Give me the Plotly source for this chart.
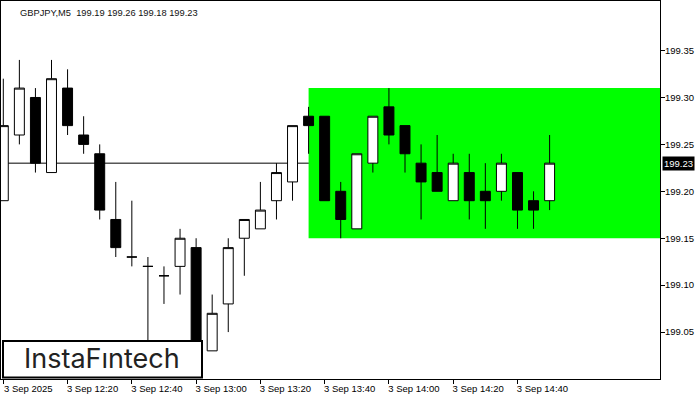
import plotly.graph_objects as go

# ---- data ----
times = ["12:00", "12:05", "12:10", "12:15", "12:20", "12:25", "12:30", "12:35", "12:40", "12:45",
         "12:50", "12:55", "13:00", "13:05", "13:10", "13:15", "13:20", "13:25", "13:30", "13:35",
         "13:40", "13:45", "13:50", "13:55", "14:00", "14:05", "14:10", "14:15", "14:20", "14:25",
         "14:30", "14:35", "14:40", "14:45", "14:50"]
opens = [199.19, 199.26, 199.30, 199.22, 199.31, 199.26, 199.24, 199.17, 199.13, 199.12,
         199.11, 199.12, 199.14, 199.03, 199.08, 199.15, 199.16, 199.19, 199.21, 199.28,
         199.28, 199.20, 199.16, 199.23, 199.29, 199.27, 199.23, 199.22, 199.19, 199.22,
         199.20, 199.20, 199.22, 199.19, 199.19]
highs = [199.32, 199.34, 199.31, 199.34, 199.33, 199.28, 199.25, 199.21, 199.19, 199.13,
         199.12, 199.16, 199.15, 199.09, 199.15, 199.17, 199.21, 199.23, 199.27, 199.29,
         199.28, 199.21, 199.24, 199.28, 199.31, 199.27, 199.25, 199.26, 199.24, 199.24,
         199.23, 199.24, 199.22, 199.20, 199.26]
lows = [199.19, 199.25, 199.22, 199.22, 199.26, 199.24, 199.17, 199.13, 199.12, 199.03,
        199.08, 199.09, 199.01, 199.03, 199.05, 199.11, 199.16, 199.17, 199.19, 199.24,
        199.19, 199.15, 199.16, 199.22, 199.25, 199.22, 199.17, 199.20, 199.19, 199.17,
        199.16, 199.19, 199.16, 199.16, 199.18]
closes = [199.27, 199.31, 199.23, 199.32, 199.27, 199.25, 199.18, 199.14, 199.13, 199.12,
          199.11, 199.15, 199.02, 199.07, 199.14, 199.17, 199.18, 199.22, 199.27, 199.27,
          199.19, 199.17, 199.24, 199.28, 199.26, 199.24, 199.21, 199.20, 199.23, 199.19,
          199.19, 199.23, 199.18, 199.18, 199.23]

tick_times = ["12:00", "12:20", "12:40", "13:00", "13:20", "13:40", "14:00", "14:20", "14:40"]
tick_labels = ["3 Sep 2025", "3 Sep 12:20", "3 Sep 12:40", "3 Sep 13:00", "3 Sep 13:20",
               "3 Sep 13:40", "3 Sep 14:00", "3 Sep 14:20", "3 Sep 14:40"]
price_ticks = [199.05, 199.10, 199.15, 199.20, 199.25, 199.30, 199.35]

zone_start = "13:35"
zone_top = 199.31
zone_bottom = 199.15
current_price = 199.23
symbol = "GBPJPY,M5"

# ---- layout geometry ----
W, H = 700, 400
ML, MR, MT, MB = 1, 40, 1, 21
PW, PH = W - ML - MR, H - MT - MB
x_range = [-0.143, 40.87]
y_range = [199.0, 199.4028]


def px_x(px):
    return (px - ML) / PW


def px_y(py):
    return (H - MB - py) / PH


FONT = "Liberation Sans, Arial, sans-serif"

fig = go.Figure()
fig.add_trace(go.Candlestick(
    x=times, open=opens, high=highs, low=lows, close=closes,
    increasing=dict(fillcolor="white", line=dict(color="black", width=1)),
    decreasing=dict(fillcolor="black", line=dict(color="black", width=1)),
    whiskerwidth=0, showlegend=False, hoverinfo="skip",
))

shapes = [
    dict(type="rect", xref="x", yref="y", x0=times.index(zone_start), x1=x_range[1] + 1,
         y0=zone_bottom, y1=zone_top, fillcolor="#00ff00", line=dict(width=0), layer="below"),
    dict(type="line", xref="paper", yref="y", x0=0, x1=1, y0=current_price, y1=current_price,
         line=dict(color="black", width=1), layer="below"),
    dict(type="rect", xref="paper", yref="paper", x0=px_x(3), x1=px_x(202), y0=px_y(377.5), y1=px_y(341),
         fillcolor="white", line=dict(color="black", width=2), layer="above"),
]

ohlc_text = f"{symbol}\u00a0\u00a0{opens[-1]:.2f} {highs[-1]:.2f} {lows[-1]:.2f} {closes[-1]:.2f}"
annotations = [
    dict(text=ohlc_text, xref="paper", yref="paper", x=px_x(18), y=px_y(6), xanchor="left", yanchor="top",
         showarrow=False, font=dict(family=FONT, size=9.3, color="#111")),
    dict(text="InstaF\u0131ntech", xref="paper", yref="paper", x=px_x(102), y=px_y(358.5),
         xanchor="center", yanchor="middle", showarrow=False,
         font=dict(family="Inter, Open Sans, sans-serif", size=27, color="#222")),
    dict(text=f"{current_price:.2f}", xref="paper", yref="y", x=px_x(662), y=current_price,
         xanchor="left", yanchor="middle", showarrow=False, bgcolor="black", borderpad=1,
         font=dict(family=FONT, size=9.5, color="white")),
]

fig.update_layout(
    width=W, height=H, margin=dict(l=ML, r=MR, t=MT, b=MB, pad=0),
    paper_bgcolor="white", plot_bgcolor="white",
    shapes=shapes, annotations=annotations,
    boxgap=0.38, boxgroupgap=0,
    showlegend=False, hovermode=False,
    xaxis=dict(type="category", categoryorder="array", categoryarray=times,
               range=x_range, rangeslider=dict(visible=False),
               tickmode="array", tickvals=tick_times, ticktext=tick_labels,
               ticks="outside", ticklen=4, tickcolor="black", tickwidth=1,
               ticklabelshift=25, ticklabelstandoff=-3,
               tickfont=dict(family=FONT, size=9.5, color="black"),
               showgrid=False, zeroline=False,
               showline=True, mirror=True, linecolor="black", linewidth=1),
    yaxis=dict(side="right", range=y_range,
               tickmode="array", tickvals=price_ticks, ticktext=[f"{v:.2f}" for v in price_ticks],
               ticks="outside", ticklen=4, tickcolor="black", tickwidth=1,
               ticklabelstandoff=-2,
               tickfont=dict(family=FONT, size=9.5, color="black"),
               showgrid=False, zeroline=False,
               showline=True, mirror=True, linecolor="black", linewidth=1),
)

fig.write_html("out.html", config={"displayModeBar": False},
               post_script="document.body.style.margin='0';document.body.style.overflow='hidden';")
